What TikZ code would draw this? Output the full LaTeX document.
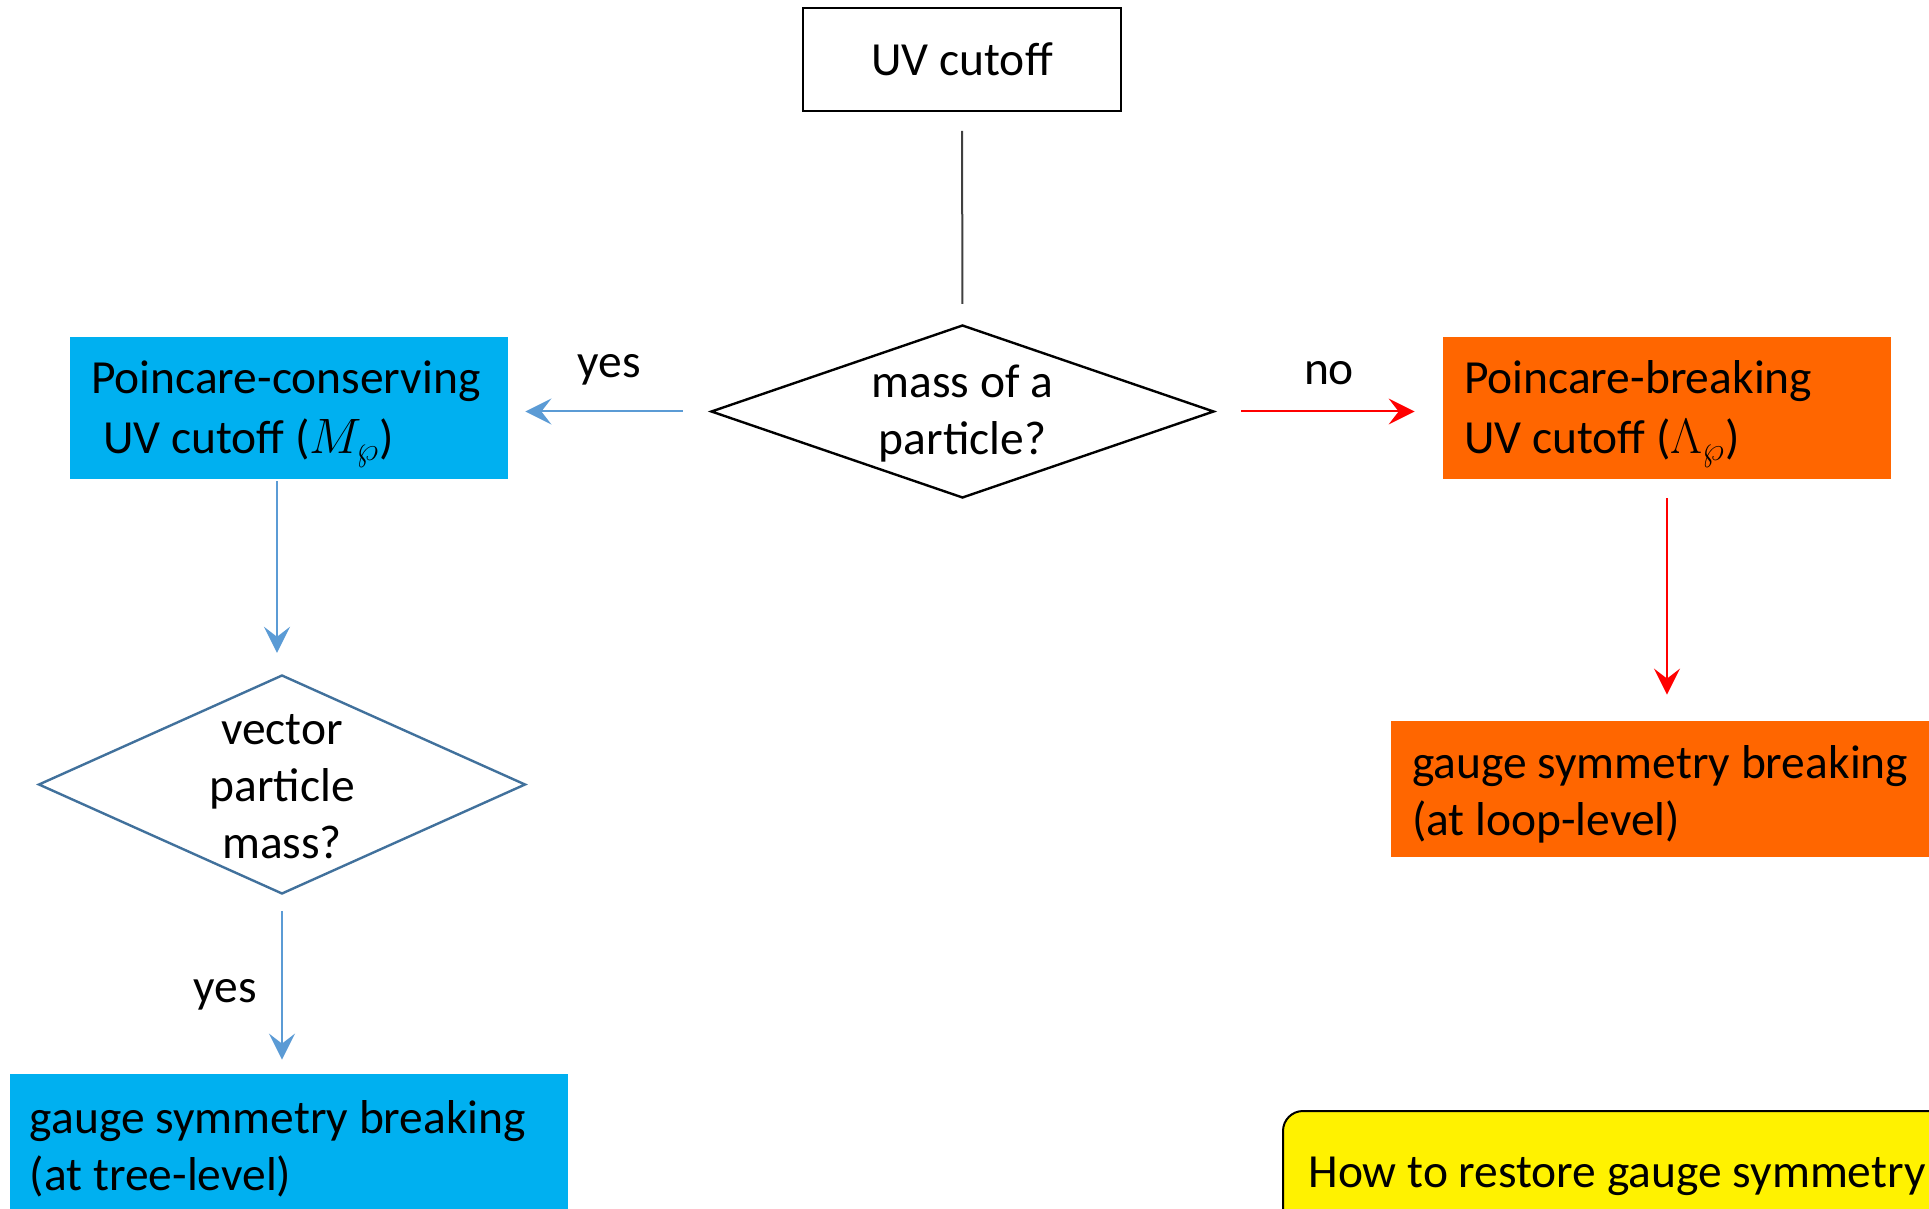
\documentclass[tikz,border=0pt]{standalone}
\usepackage{fontspec}
\setmainfont{Carlito}
\usetikzlibrary{shapes.geometric,arrows.meta}
\definecolor{boxblue}{HTML}{00B0F0}
\definecolor{boxorange}{HTML}{FF6600}
\definecolor{arrowblue}{HTML}{5B9BD5}
\definecolor{diamblue}{HTML}{41719C}
\definecolor{linegray}{HTML}{404040}
\begin{document}
\begin{tikzpicture}[x=0.5pt,y=-0.5pt,
  font=\fontsize{23.75}{28.5}\selectfont,
  fillbox/.style={rectangle, draw=none, inner sep=0pt},
  boxtext/.style={align=left, anchor=west, inner sep=0pt},
  diam/.style={diamond, inner sep=0pt, fill=white, line width=1.2pt},
  arr/.style={-{Stealth[length=13pt,width=13pt,inset=5pt]}, line width=1pt}]
\clip (0,0) rectangle (1929,1209);
\fill[white] (0,0) rectangle (1929,1209);

\node[draw=black, line width=1pt, minimum width=159pt, minimum height=51.5pt, inner sep=0pt] (uv) at (962,59.5) {UV cutoff};

\node[diam, draw=black, minimum width=251.5pt, minimum height=86.5pt] (d1) at (962.5,411.5) {};
\node[align=center] (d1t) at (962.5,413.5) {mass of a\\particle?};

\node[fillbox, fill=boxblue, minimum width=219pt, minimum height=71pt] (b1) at (289,408) {};
\node[boxtext] (b1t) at ([xshift=10.5pt,yshift=-3.1pt]b1.west) {Poincare-conserving\\[1.2pt]\hspace*{6pt}UV cutoff ($M_{\wp}$)};

\node[fillbox, fill=boxorange, minimum width=224pt, minimum height=71pt] (o1) at (1667,408) {};
\node[boxtext] (o1t) at ([xshift=10.5pt,yshift=-3.1pt]o1.west) {Poincare-breaking\\[1.2pt]UV cutoff ($\Lambda_{\wp}$)};

\node[fillbox, fill=boxorange, minimum width=277pt, minimum height=68pt] (o2) at (1668,789) {};
\node[boxtext] (o2t) at ([xshift=10.5pt,yshift=-2.5pt]o2.west) {gauge symmetry breaking\\(at loop-level)};

\node[diam, draw=diamblue, minimum width=243.5pt, minimum height=109.5pt] (d2) at (282,784.5) {};
\node[align=center] (d2t) at (282,787) {vector\\particle\\mass?};

\node[fillbox, fill=boxblue, minimum width=279pt, minimum height=70pt] (b2) at (289,1144) {};
\node[boxtext] (b2t) at ([xshift=10pt,yshift=-2.5pt]b2.west) {gauge symmetry breaking\\(at tree-level)};

\node[rectangle, rounded corners=10pt, draw=black, line width=1pt, fill=yellow, inner sep=0pt, minimum width=356pt, minimum height=60pt] (y1) at (1639,1171) {};
\node[boxtext] (y1t) at ([xshift=13pt,yshift=-2.5pt]y1.west) {How to restore gauge symmetry};

\draw[linegray, line width=1pt, shorten <=9.5pt, shorten >=10pt] (uv.south) -- (d1.north);
\draw[arr, arrowblue, shorten <=13.5pt, shorten >=8.5pt] (d1.west) -- (d1.west -| b1.east);
\draw[arr, red, shorten <=13pt, shorten >=14pt] (d1.east) -- (d1.east -| o1.west);
\draw[arr, arrowblue, shorten <=1pt, shorten >=10.5pt] ([xshift=-6pt]b1.south) -- ([xshift=-6pt]b1.south |- d2.north);
\draw[arr, arrowblue, shorten <=8pt, shorten >=7pt] (d2.south) -- (d2.south |- b2.north);
\draw[arr, red, shorten <=9.5pt, shorten >=13pt] (o1.south) -- (o1.south |- o2.north);

\node (yes1) at (609,370) {yes};
\node (no1) at (1329,373) {no};
\node (yes2) at (225,995) {yes};
\end{tikzpicture}
\end{document}
